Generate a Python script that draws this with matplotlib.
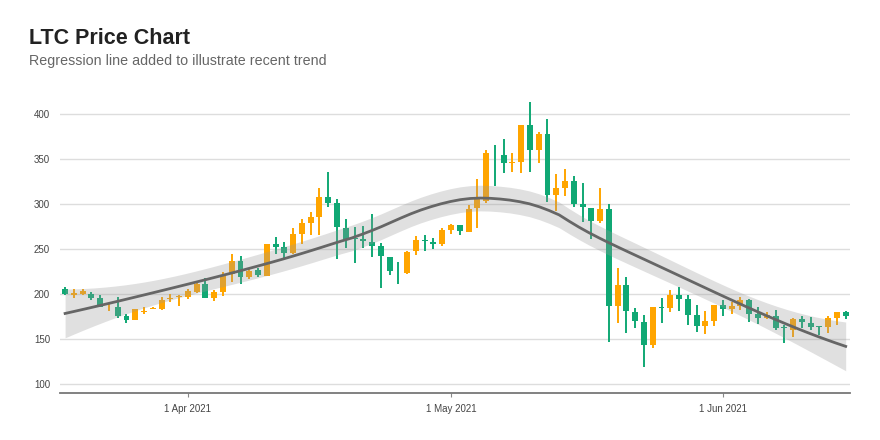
import matplotlib
matplotlib.use('Agg')
import matplotlib.pyplot as plt
import matplotlib.dates as mdates
import numpy as np
import pandas as pd

# daily LTC candles, 18 Mar 2021 - 15 Jun 2021
dates = pd.date_range('2021-03-18', periods=90, freq='D')

opens = [205.6, 199, 200, 200, 196, 185, 186, 176, 171, 180,
         183, 183, 194, 197, 197, 202, 211, 195, 202, 222,
         237, 219, 227, 220, 256, 252, 245, 267, 279, 286,
         308, 301, 273, 262, 261, 258, 253, 241, 226, 223,
         248, 260, 258, 255, 271.5, 277, 269, 295, 303, 356,
         354, 346, 347, 388, 360, 378, 310, 318, 326, 300,
         296, 281, 294, 187, 210, 180, 169, 143, 185, 184,
         199, 194, 177, 164, 170, 188, 183, 187, 193, 178,
         173, 176, 163, 160, 172, 168, 164, 163, 173, 180]
highs = [208, 205, 206, 202, 199, 189, 197, 178, 183, 186,
         185, 197, 200, 199, 205, 213, 218, 204, 224, 244,
         242, 229, 229, 256, 263, 258, 273, 283, 291, 318,
         335, 305, 283, 274, 276, 289, 257, 241, 236, 248,
         264, 266, 262, 273, 278, 277, 299, 328, 360, 365,
         372, 357, 388, 413, 380, 394, 333, 339, 331, 323,
         296, 318, 300, 229, 219, 184, 177, 185, 195, 204,
         208, 199, 188, 181, 188, 193, 191, 197, 194, 186,
         180, 182, 165, 173, 175, 174, 164, 175, 180, 181]
lows = [198.5, 196, 199, 193, 185, 181, 173, 168, 171, 178,
        183, 182, 191, 187, 194, 201, 195, 192, 198, 213,
        211, 217, 219, 220, 244, 240, 244, 256, 266, 266,
        297, 239, 251, 234, 251, 241, 207, 221, 211, 222,
        243, 248, 250, 253, 267, 265, 269, 273, 301, 320,
        334, 335, 334, 336, 346, 302, 292, 309, 297, 280,
        261, 279, 147, 168, 157, 162, 119, 140, 168, 180,
        181, 166, 158, 156, 164, 176, 178, 182, 169, 167,
        172, 160, 145, 152, 162, 160, 154, 157, 166, 172]
closes = [200, 201, 203, 196, 186, 186, 176, 171, 183, 181,
          184, 193, 196, 198, 203, 211, 196, 202, 220, 237,
          219, 226, 221, 256, 252, 245, 267, 279, 286, 308,
          301, 274, 261, 261, 259, 253, 242, 225, 225, 247,
          260, 259, 255, 271, 277, 270, 294, 305, 357, 355,
          346, 347, 388, 360, 378, 310, 318, 326, 300, 297,
          281, 294, 187, 210, 181, 170, 143, 185, 184, 199,
          194, 177, 164, 170, 188, 183, 187, 193, 178, 173,
          177, 162, 162, 172, 169, 163, 163, 173, 180, 175]

UP = '#ffa500'
DOWN = '#10a874'


def loess(x, y, xg, span=0.75):
    # local quadratic fit with tricube weights, as geom_smooth(method='loess')
    n = len(x)
    q = int(np.floor(n * span))

    def rows(points):
        L = np.zeros((len(points), n))
        for i, x0 in enumerate(points):
            d = np.abs(x - x0)
            h = np.sort(d)[q - 1]
            w = np.clip(1 - (d / h) ** 3, 0, None) ** 3
            X = np.column_stack([np.ones(n), x - x0, (x - x0) ** 2])
            XtW = X.T * w
            L[i] = np.linalg.solve(XtW @ X, XtW)[0]
        return L

    L = rows(x)
    Lg = rows(xg)
    M = np.eye(n) - L
    d1 = np.trace(M.T @ M)
    s = np.sqrt(np.sum((M @ y) ** 2) / d1)
    fit = Lg @ y
    se = s * np.sqrt(np.sum(Lg ** 2, axis=1))
    return fit, fit - 1.99 * se, fit + 1.99 * se


x = mdates.date2num(dates)
o = np.array(opens)
c = np.array(closes)
colors = [UP if cc >= oo else DOWN for oo, cc in zip(o, c)]

fig = plt.figure(figsize=(8.8, 4.4), dpi=100)
ax = fig.add_axes([0.068, 0.107, 0.898, 0.675])

# candles
ax.vlines(x, lows, highs, colors=colors, linewidth=1.4, zorder=2)
body = np.maximum(np.abs(c - o), 0.9)
ax.bar(x, body, bottom=np.minimum(o, c), width=0.68, color=colors,
       linewidth=0, zorder=3)

# regression (loess) line with confidence band
xg = np.linspace(x[0], x[-1], 80)
fit, lo, hi = loess(x - x[0], c, xg - x[0])
ax.fill_between(xg, lo, hi, color='#999999', alpha=0.3, linewidth=0,
                antialiased=False, zorder=4)
ax.plot(xg, fit, color='#666666', linewidth=2, zorder=5)

ax.set_xlim(x[0] - 0.6, x[-1] + 0.5)
ax.set_ylim(90, 420)
ax.set_yticks([100, 150, 200, 250, 300, 350, 400])
ax.grid(axis='y', color='#dddddd', linewidth=1)
ax.set_axisbelow(True)

ax.xaxis.set_major_locator(mdates.MonthLocator(bymonth=[4, 5, 6]))
ax.xaxis.set_major_formatter(mdates.DateFormatter('%-d %b %Y'))

tick_font = ['Liberation Sans Narrow', 'DejaVu Sans Condensed', 'Liberation Sans']
for lab in ax.get_xticklabels() + ax.get_yticklabels():
    lab.set_family(tick_font)
    lab.set_fontsize(7)
    lab.set_color('#444444')
ax.tick_params(axis='y', length=0, pad=7)
ax.tick_params(axis='x', length=3, color='#888888', pad=5)

for side in ['top', 'right', 'left']:
    ax.spines[side].set_visible(False)
ax.spines['bottom'].set_color('#777777')
ax.spines['bottom'].set_linewidth(1.3)

fig.text(0.033, 0.9, 'LTC Price Chart', fontsize=15.5, fontweight='bold',
         color='#222222', family='Liberation Sans')
fig.text(0.033, 0.852, 'Regression line added to illustrate recent trend',
         fontsize=10.3, color='#666666', family='Liberation Sans')

plt.savefig('out.png', dpi=100)
